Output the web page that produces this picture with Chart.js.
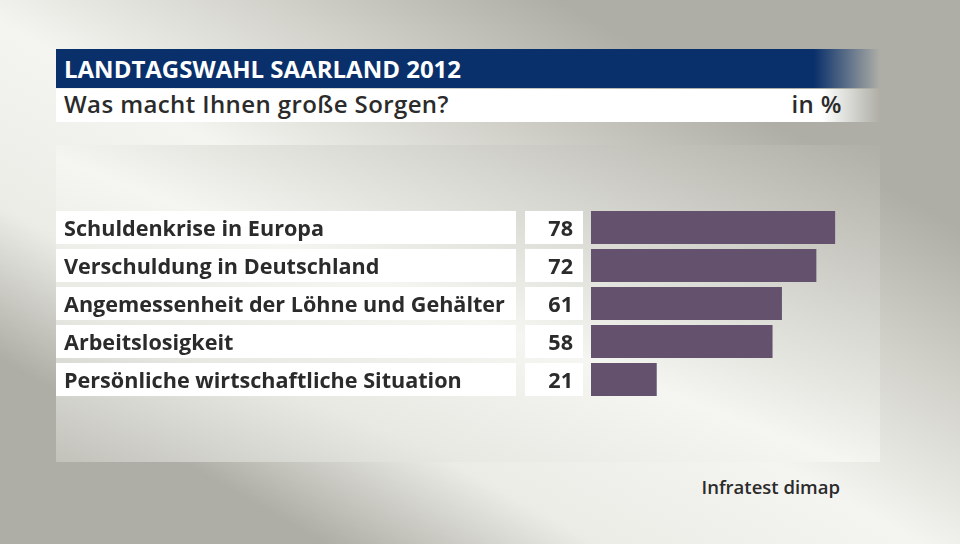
<!DOCTYPE html>
<html lang="de">
<head>
<meta charset="utf-8">
<title>Landtagswahl Saarland 2012</title>
<script src="https://cdn.jsdelivr.net/npm/chart.js@4.4.1/dist/chart.umd.min.js"></script>
<style>
  html, body { margin: 0; padding: 0; }
  body {
    width: 960px; height: 544px; overflow: hidden; position: relative;
    font-family: "Open Sans", sans-serif; color: #2b2b2b;
    background: linear-gradient(to top right, #aeaea6 0%, #aeaea6 17%, #ecece7 31%, #f4f4f0 48%, #d2d2cb 64%, #aeaea6 79%, #aeaea6 100%);
  }
  .panel {
    position: absolute; left: 56px; top: 145px; width: 824px; height: 317px;
    background: linear-gradient(to top right, #c2c2bb 0%, #e9e9e4 25%, #f5f5f1 48%, #d6d6d0 72%, #afafa7 100%);
  }
  .titlebar {
    position: absolute; left: 56px; top: 49px; width: 824px; height: 39px;
    background: linear-gradient(to right, #0a306b 0%, #0a306b 92%, rgba(10,48,107,0) 100%);
    color: #fff; font-weight: 700; font-size: 24px; letter-spacing: 0;
  }
  .titlebar span { position: absolute; left: 8px; top: 3px; }
  .subbar {
    position: absolute; left: 56px; top: 89px; width: 824px; height: 33px;
    background: linear-gradient(to right, #fff 0%, #fff 93%, rgba(255,255,255,0) 100%);
    font-weight: 600; font-size: 24px; letter-spacing: 0.4px;
  }
  .subbar .q { position: absolute; left: 8px; top: -2px; }
  .subbar .u { position: absolute; right: 38px; top: -2px; }
  .source { position: absolute; right: 120px; top: 474px; font-size: 18.5px; font-weight: 600; }
  #wrap { position: absolute; left: 0; top: 0; width: 960px; height: 544px; }
</style>
</head>
<body>
<div class="panel"></div>
<div class="titlebar"><span>LANDTAGSWAHL SAARLAND 2012</span></div>
<div class="subbar"><span class="q">Was macht Ihnen große Sorgen?</span><span class="u">in %</span></div>
<div class="source">Infratest dimap</div>
<div id="wrap"><canvas id="chart"></canvas></div>
<script>
const categories = [
  'Schuldenkrise in Europa',
  'Verschuldung in Deutschland',
  'Angemessenheit der Löhne und Gehälter',
  'Arbeitslosigkeit',
  'Persönliche wirtschaftliche Situation'
];
const values = [78, 72, 61, 58, 21];

const labelFont = { family: 'Open Sans', size: 21.6, weight: '700' };

// white boxes behind labels and values (drawn before the axis), then the numbers
const rowBoxes = {
  id: 'rowBoxes',
  beforeDraw(chart) {
    const { ctx, scales: { y } } = chart;
    const half = y.height / categories.length * 0.87 / 2;
    ctx.save();
    ctx.fillStyle = '#ffffff';
    categories.forEach((c, i) => {
      const cy = y.getPixelForValue(i);
      ctx.fillRect(56, cy - half, 460, half * 2);
      ctx.fillRect(525, cy - half, 58, half * 2);
    });
    ctx.restore();
    // nudge the axis labels down a little
    ctx.save();
    ctx.translate(0, 2);
  },
  beforeDatasetsDraw(chart) {
    chart.ctx.restore();
  },
  afterDatasetsDraw(chart) {
    const { ctx, scales: { y } } = chart;
    ctx.save();
    ctx.fillStyle = '#2b2b2b';
    ctx.font = `${labelFont.weight} ${labelFont.size}px "${labelFont.family}"`;
    ctx.textAlign = 'right';
    ctx.textBaseline = 'middle';
    values.forEach((v, i) => ctx.fillText(v, 573, y.getPixelForValue(i) + 2));
    ctx.restore();
  }
};

new Chart(document.getElementById('chart'), {
  type: 'bar',
  data: {
    labels: categories,
    datasets: [{
      data: values,
      backgroundColor: '#64516d',
      barPercentage: 0.87,
      categoryPercentage: 1
    }]
  },
  options: {
    indexAxis: 'y',
    responsive: true,
    maintainAspectRatio: false,
    animation: false,
    layout: { padding: { left: 64, right: 56, top: 208.5, bottom: 145.5 } },
    plugins: { legend: { display: false }, tooltip: { enabled: false } },
    scales: {
      x: { display: false, min: 0, max: 100 },
      y: {
        grid: { display: false },
        border: { display: false },
        ticks: { crossAlign: 'far', color: '#2b2b2b', font: labelFont, padding: 0 },
        afterFit(scale) { scale.width = 527; }
      }
    }
  },
  plugins: [rowBoxes]
});
</script>
</body>
</html>
